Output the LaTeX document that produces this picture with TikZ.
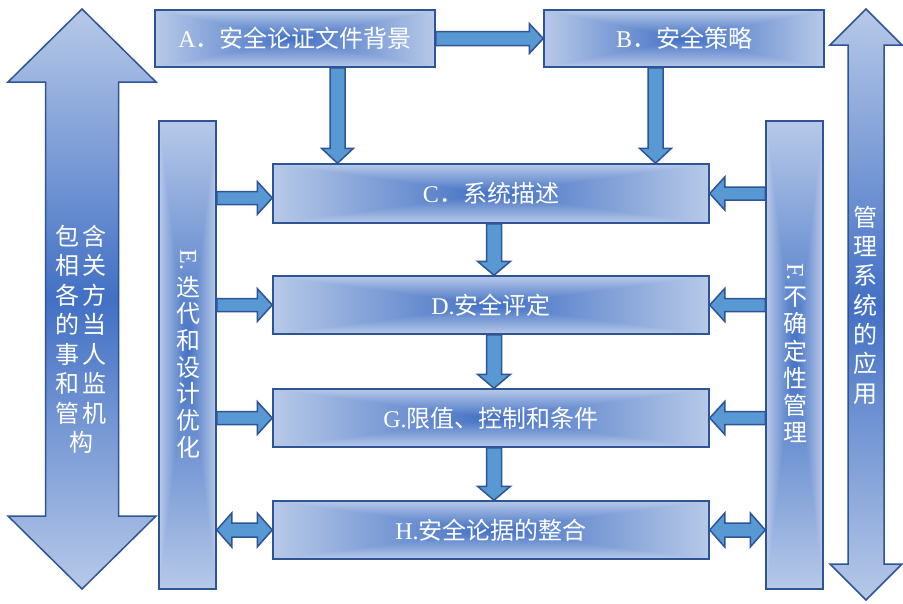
\documentclass[tikz,border=0pt]{standalone}
\usepackage{fontspec}
\setmainfont{Liberation Serif}
\newfontfamily\zh{Noto Sans CJK SC}
\usetikzlibrary{calc}

\definecolor{lite}{RGB}{183,201,232}
\definecolor{deep}{RGB}{66,112,196}
\definecolor{edge}{RGB}{47,84,150}
\definecolor{flow}{RGB}{88,153,212}

\newcommand\labelsize{\fontsize{24}{28}\selectfont}

% block arrow from #5 to #6: shaft half width #2, head half width #3, head length #4
\newcommand\flowarrow[6][conn]{%
  \path ($(#6)!#4!(#5)$) coordinate (tipbase);
  \path[#1] ($(#5)!#2!90:(#6)$) -- ($(tipbase)!#2!-90:(#5)$)
    -- ($(tipbase)!#3!-90:(#5)$) -- (#6) -- ($(tipbase)!#3!90:(#5)$)
    -- ($(tipbase)!#2!90:(#5)$) -- ($(#5)!#2!-90:(#6)$) -- cycle;}

% block arrow with a head at both ends
\newcommand\twowayarrow[6][conn]{%
  \path ($(#5)!#4!(#6)$) coordinate (heada) ($(#6)!#4!(#5)$) coordinate (headb);
  \path[#1] (#5) -- ($(heada)!#3!90:(#6)$) -- ($(heada)!#2!90:(#6)$)
    -- ($(headb)!#2!-90:(#5)$) -- ($(headb)!#3!-90:(#5)$) -- (#6)
    -- ($(headb)!#3!90:(#5)$) -- ($(headb)!#2!90:(#5)$)
    -- ($(heada)!#2!-90:(#6)$) -- ($(heada)!#3!-90:(#6)$) -- cycle;}

\tikzset{
  panel/.style={draw=edge, line width=1.5pt, inner sep=0pt, text=white,
    font=\labelsize,
    path picture={
      \shade[left color=lite, right color=lite, middle color=deep]
        (path picture bounding box.south west) rectangle (path picture bounding box.north east);
      \begin{scope}[blend mode=lighten]
        \shade[top color=lite, bottom color=lite, middle color=deep]
          (path picture bounding box.south west) rectangle (path picture bounding box.north east);
      \end{scope}}},
  headbox/.style={panel, minimum width=280pt, minimum height=57pt},
  stagebox/.style={panel, minimum width=436pt, minimum height=58pt},
  sidebox/.style={panel, minimum width=57pt, minimum height=468pt},
  conn/.style={draw=edge, line width=1.5pt, fill=flow},
  bigarrow/.style={draw=edge, line width=1.5pt, top color=lite, bottom color=lite, middle color=deep},
  caption/.style={text=white, inner sep=0pt, align=center},
}

\begin{document}
\begin{tikzpicture}[x=1pt, y=-1pt]
\fill[white] (0,0) rectangle (903,603);
\useasboundingbox (0,0) rectangle (903,603);

% outer arrows: stakeholders (left), management system (right)
\coordinate (lt) at (82,9);
\coordinate (lb) at (82,589);
\twowayarrow[bigarrow]{36.5pt}{74pt}{73pt}{lt}{lb}
\coordinate (rt) at (866,9);
\coordinate (rb) at (866,600);
\twowayarrow[bigarrow]{18pt}{36pt}{36pt}{rt}{rb}

\node[caption, font=\zh\fontsize{24}{29.5}\selectfont] (who) at (81,339.5)
  {包\kern4pt 含\\相\kern4pt 关\\各\kern4pt 方\\的\kern4pt 当\\事\kern4pt 人\\和\kern4pt 监\\管\kern4pt 机\\构};
\node[caption, font=\zh\fontsize{24}{29.3}\selectfont] (use) at (865,305)
  {管\\理\\系\\统\\的\\应\\用};

% stages
\node[headbox] (A) at (295,38.5) {A\zh．安全论证文件背景};
\node[headbox] (B) at (684,38.5) {B\zh．安全策略};
\node[stagebox, minimum height=59pt] (C) at (491,193.5) {C\zh．系统描述};
\node[stagebox] (D) at (491,305) {D.\zh 安全评定};
\node[stagebox] (G) at (491,418) {G.\zh 限值、控制和条件};
\node[stagebox] (H) at (491,530) {H.\zh 安全论据的整合};

% side columns
\node[sidebox] (E) at (187.5,355) {};
\node[sidebox] (F) at (794.5,355) {};
\node[caption, rotate=-90, font=\labelsize] (elab) at (188,260) {E.};
\node[caption, font=\zh\fontsize{24}{26.7}\selectfont] (etext) at (188,367)
  {迭\\代\\和\\设\\计\\优\\化};
\node[caption, rotate=-90, font=\labelsize] (flab) at (795,272) {F.};
\node[caption, font=\zh\fontsize{24}{27.2}\selectfont] (ftext) at (795,365)
  {不\\确\\定\\性\\管\\理};

% connectors
\coordinate (xa) at (337.5,0);
\coordinate (xb) at (655.5,0);
\coordinate (xm) at (494,0);
\coordinate (yc) at (0,198);
\flowarrow{7pt}{15pt}{14pt}{A.east}{B.west}
\flowarrow{7.5pt}{16pt}{15pt}{A.south -| xa}{C.north -| xa}
\flowarrow{7.5pt}{16pt}{15pt}{B.south -| xb}{C.north -| xb}
\flowarrow{7.5pt}{16.5pt}{14pt}{C.south -| xm}{D.north -| xm}
\flowarrow{7.5pt}{16.5pt}{14pt}{D.south -| xm}{G.north -| xm}
\flowarrow{7.5pt}{16.5pt}{14pt}{G.south -| xm}{H.north -| xm}

\flowarrow{6.5pt}{16.5pt}{15pt}{E.east |- yc}{C.west |- yc}
\flowarrow{6.5pt}{16.5pt}{15pt}{E.east |- D.west}{D.west}
\flowarrow{6.5pt}{16.5pt}{15pt}{E.east |- G.west}{G.west}
\twowayarrow{7pt}{17pt}{15pt}{E.east |- H.west}{H.west}

\flowarrow{6.5pt}{16.5pt}{15pt}{F.west |- C.east}{C.east}
\flowarrow{6.5pt}{16.5pt}{15pt}{F.west |- D.east}{D.east}
\flowarrow{6.5pt}{16.5pt}{15pt}{F.west |- G.east}{G.east}
\twowayarrow{7pt}{17pt}{15pt}{F.west |- H.east}{H.east}
\end{tikzpicture}
\end{document}
